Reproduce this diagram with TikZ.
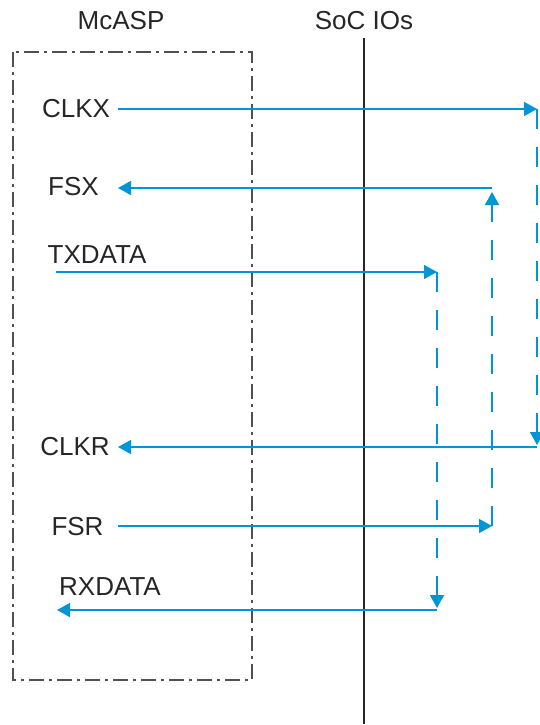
\documentclass[tikz,border=0pt]{standalone}
\usepackage{fontspec}
\setmainfont{Liberation Sans}
\usepackage{xcolor}
\usetikzlibrary{arrows.meta,positioning}
\definecolor{azulsen}{RGB}{0,150,214}
\definecolor{grismarco}{RGB}{80,80,80}
\tikzset{
  sen/.style={draw=azulsen,line width=1.5pt,-{Triangle[length=13pt,width=14pt]}},
  send/.style={sen,dash pattern=on 20pt off 18pt},
  etq/.style={font=\fontsize{26}{30}\selectfont,text=black!85,inner sep=0pt},
  marco/.style={draw=grismarco,line width=1.3pt,dash pattern=on 15pt off 5pt on 3pt off 5pt}
}

\begin{document}
\begin{tikzpicture}[x=1pt,y=-1pt]
\useasboundingbox (0,0) rectangle (540,725);
% titulos
\node[etq] (mcasp) at (121,21) {McASP};
\node[etq] (soc) at (364,21) {SoC IOs};
% bloque y frontera
\draw[marco] (13,52) rectangle (252,680);
\coordinate (soctop) at (364,38); \coordinate (socbot) at (364,724);
\draw[black!85,line width=2.2pt] (soctop)--(socbot);
% etiquetas
\node[etq] (clkx) at (76,109) {CLKX};
\node[etq] (fsx) at (73.5,187) {FSX};
\node[etq] (txdata) at (97,255) {TXDATA};
\node[etq] (clkr) at (75,447) {CLKR};
\node[etq] (fsr) at (77.5,527) {FSR};
\node[etq] (rxdata) at (110,587) {RXDATA};
% extremos
\coordinate (clkxin) at (118,109); \coordinate (clkxio) at (537,109);
\coordinate (fsxin) at (118,188);  \coordinate (fsxio) at (492,188);
\coordinate (txin) at (56,272);    \coordinate (txio) at (437,272);
\coordinate (clkrin) at (118,447); \coordinate (clkrio) at (537,447);
\coordinate (fsrin) at (118,526);  \coordinate (fsrio) at (492,526);
\coordinate (rxin) at (57,610);    \coordinate (rxio) at (437,610);
% transmision
\draw[sen] (clkxin)--(clkxio);
\draw[sen] (fsxio)--(fsxin);
\draw[sen] (txin)--(txio);
% lazos
\draw[send,shorten >=2pt] (clkxio)--(clkrio);
\draw[send,shorten >=4pt] (fsrio)--(fsxio);
\draw[send,shorten >=2pt] (txio)--(rxio);
% recepcion
\draw[sen] (clkrio)--(clkrin);
\draw[sen] (fsrin)--(fsrio);
\draw[sen] (rxio)--(rxin);
\end{tikzpicture}
\end{document}
